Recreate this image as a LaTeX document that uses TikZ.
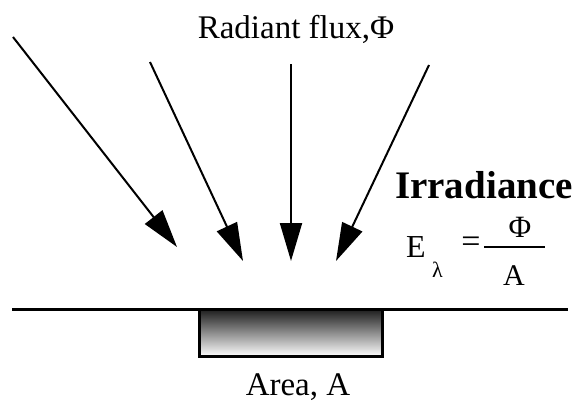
\documentclass[tikz,border=0pt]{standalone}
\usepackage{fontspec}
\setmainfont{Liberation Serif}
\usetikzlibrary{arrows.meta,positioning}

\begin{document}
\begin{tikzpicture}[
    x=1pt, y=-1pt,
    ray/.style={-{Triangle[length=38pt, width=22pt]}, line width=2pt},
    lbl/.style={inner sep=0pt, font=\fontsize{#1}{#1}\selectfont},
    ground/.style={line width=3pt}
]
    \useasboundingbox (0,0) rectangle (575,404);

    % Incoming rays
    \coordinate (r1s) at (13,37);  \coordinate (r1e) at (177,247);
    \coordinate (r2s) at (150,62); \coordinate (r2e) at (243,261);
    \coordinate (r3s) at (291,64); \coordinate (r3e) at (291,261);
    \coordinate (r4s) at (429,65); \coordinate (r4e) at (336,261);
    \draw[ray] (r1s) -- (r1e);
    \draw[ray] (r2s) -- (r2e);
    \draw[ray] (r3s) -- (r3e);
    \draw[ray] (r4s) -- (r4e);

    % Surface and area
    \coordinate (gl) at (12,309);
    \coordinate (gr) at (568,309);
    \node[draw, ground, top color=black!88, bottom color=white, minimum width=183pt, minimum height=47pt, inner sep=0pt] (area) at (291,333) {};
    \draw[ground] (gl) -- (gr);

    % Labels
    \node[lbl=33, anchor=base] (flux) at (296,38) {Radiant flux,Φ};
    \node[lbl=33, anchor=base] (arealbl) at (298,395) {Area, A};
    \node[lbl=39, anchor=base, font=\bfseries\fontsize{39}{39}\selectfont] (irr) at (484,198) {Irradiance};

    % Formula
    \node[lbl=32, anchor=base west] (E) at (406,257) {E};
    \node[lbl=22, anchor=base west] (lam) at (432,277) {λ};
    \node[lbl=34] (eq) at (471,245) {=};
    \coordinate (fl) at (484,247);
    \coordinate (fr) at (545,247);
    \draw[line width=2pt] (fl) -- (fr);
    \node[lbl=31, anchor=base] (num) at (520,237) {Φ};
    \node[lbl=30, anchor=base] (den) at (514,285) {A};
\end{tikzpicture}
\end{document}
